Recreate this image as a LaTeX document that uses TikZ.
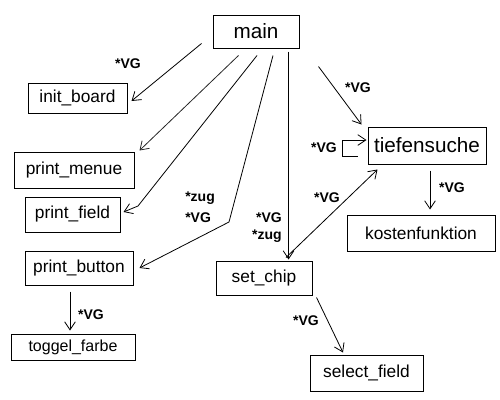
\documentclass[tikz,border=0pt]{standalone}
\usepackage{fontspec}
\setmainfont{Liberation Sans}
\usetikzlibrary{arrows.meta}

\begin{document}
\begin{tikzpicture}[x=0.75pt,y=-0.75pt]
\tikzstyle{box}=[rectangle, draw=black!100, line width=0.75pt, inner sep=0pt, font=\fontsize{13}{15}\selectfont]
\tikzstyle{bigbox}=[box, font=\fontsize{15.5}{18}\selectfont]
\tikzstyle{connect}=[-{Straight Barb[length=6pt,width=8pt]}, line width=0.6pt]
\tikzstyle{tag}=[inner sep=0pt, font=\bfseries\fontsize{10.5}{12}\selectfont]
\useasboundingbox (0,0) rectangle (500,400);
\node[bigbox, minimum width=64.5pt, minimum height=24.75pt] (main) at (256,31.5) {main};
\node[box, minimum width=74.25pt, minimum height=22.5pt] (initboard) at (77.5,98) {init\_board};
\node[box, minimum width=90pt, minimum height=27pt] (printmenue) at (74,170) {print\_menue};
\node[box, minimum width=71.25pt, minimum height=26.25pt] (printfield) at (72.5,214.5) {print\_field};
\node[box, minimum width=81pt, minimum height=25.5pt] (printbutton) at (79,268) {print\_button};
\node[box, minimum width=93pt, minimum height=19.5pt, font=\fontsize{12}{14}\selectfont] (toggelfarbe) at (73,347) {toggel\_farbe};
\node[box, minimum width=72pt, minimum height=25.5pt] (setchip) at (264,278) {set\_chip};
\node[box, minimum width=84.75pt, minimum height=27pt] (selectfield) at (366.5,373) {select\_field};
\node[box, minimum width=111pt, minimum height=27pt] (kosten) at (421,233) {kostenfunktion};
\node[bigbox, minimum width=88.5pt, minimum height=27.75pt] (tiefe) at (427,145.5) {tiefensuche};
\coordinate (fieldbend) at (138,206);
\coordinate (buttonbend) at (229,222);
\draw[connect] ([shift={(-11,-5)}]main.south west) -- ([shift={(4,3)}]initboard.east);
\draw[connect, draw=black!85] ([shift={(26,7)}]main.south west) -- ([shift={(5,-1)}]printmenue.north east);
\draw[connect] ([shift={(1,7)}]main.south) -- (fieldbend) -- ([shift={(3,-2.5)}]printfield.east);
\draw[connect] ([shift={(17,7)}]main.south) -- (buttonbend) -- ([shift={(6,0)}]printbutton.east);
\draw[connect] ([shift={(-11,3)}]main.south east) -- ([shift={(-24,-1)}]setchip.north east);
\draw[connect] ([shift={(19,18)}]main.south east) -- ([shift={(-6,-2)}]tiefe.north west);
\draw[connect] ([shift={(-10,10.5)}]tiefe.west) -- ++(-15,0) |- ([shift={(-1,-5.5)}]tiefe.west);
\draw[connect] ([shift={(22,-3)}]setchip.north) -- ([shift={(10,5)}]tiefe.south west);
\draw[connect] ([shift={(3,6)}]tiefe.south) -- ([shift={(9,-5)}]kosten.north);
\draw[connect] ([shift={(-9,6)}]printbutton.south) -- ([shift={(-3,-3)}]toggelfarbe.north);
\draw[connect] ([shift={(4,2)}]setchip.south east) -- ([shift={(-23.5,-2)}]selectfield.north);
\node[tag] (vginit) at (128,64) {*VG};
\node[tag, anchor=west] (zugfield) at (185,198) {*zug};
\node[tag, anchor=west] (vgfield) at (185,218) {*VG};
\node[tag, anchor=east] (vgchip) at (282,218) {*VG};
\node[tag, anchor=east] (zugchip) at (282,236) {*zug};
\node[tag] (vgtiefe) at (358,88) {*VG};
\node[tag] (vgloop) at (324,148) {*VG};
\node[tag] (vgdiag) at (327,198) {*VG};
\node[tag] (vgkosten) at (452,188) {*VG};
\node[tag] (vgtoggel) at (91,315) {*VG};
\node[tag] (vgselect) at (306,321) {*VG};
\end{tikzpicture}
\end{document}
